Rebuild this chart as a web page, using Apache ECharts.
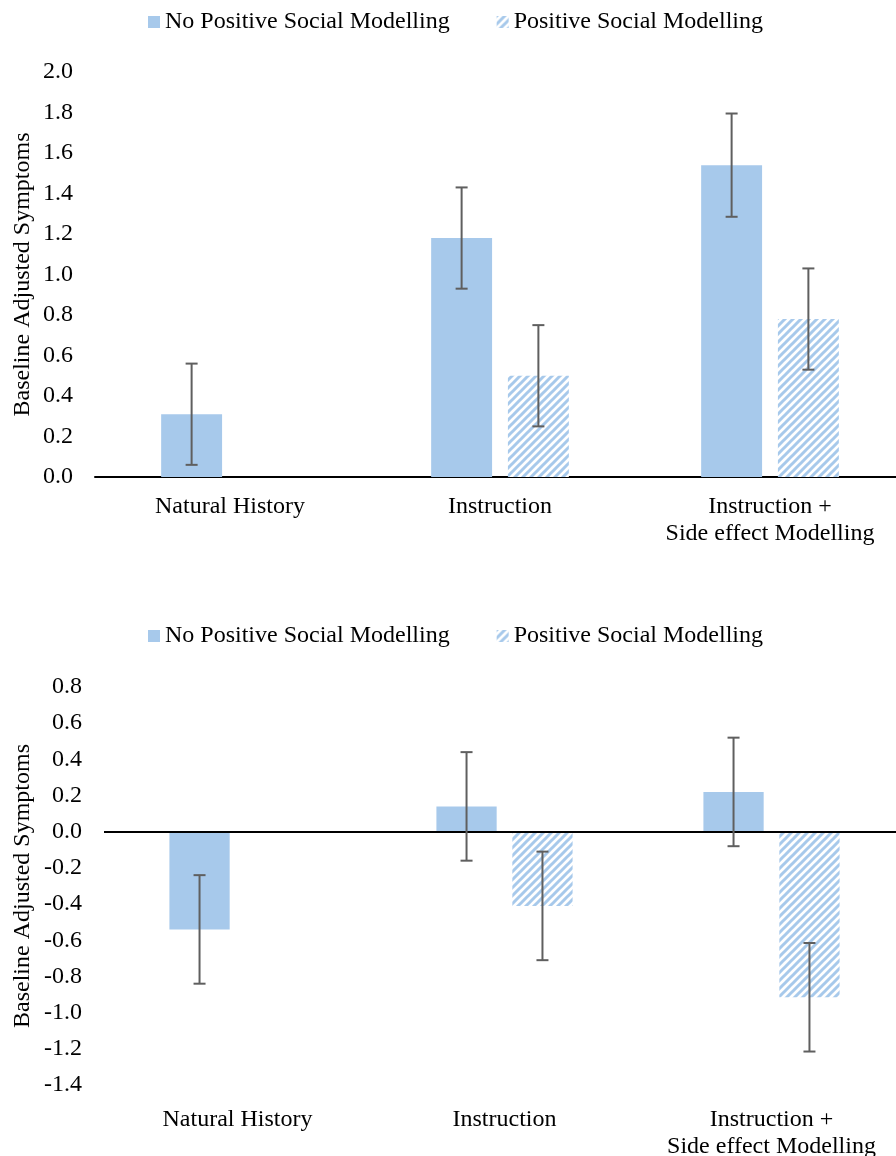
<!DOCTYPE html>
<html>
<head>
<meta charset="utf-8">
<script src="https://cdn.jsdelivr.net/npm/echarts@6/dist/echarts.min.js"></script>
<style>
  html, body { margin: 0; padding: 0; background: #ffffff; overflow: hidden; }
  #chart { width: 912px; height: 1156px; }
</style>
</head>
<body>
<div id="chart"></div>
<script>
// Groups on the horizontal axis
const categories = ['Natural History', 'Instruction', 'Instruction +\nSide effect Modelling'];
const seriesNames = ['No Positive Social Modelling', 'Positive Social Modelling'];

// Upper panel: baseline adjusted symptoms with half-width of error bars
const topTicks = { min: 0, max: 2.0, interval: 0.2 };
const topNoModel = [0.31, 1.18, 1.54];
const topModel = [null, 0.50, 0.78];
const topNoModelErr = [0.25, 0.25, 0.255];
const topModelErr = [null, 0.25, 0.25];

// Lower panel
const bottomTicks = { min: -1.4, max: 0.8, interval: 0.2 };
const bottomNoModel = [-0.54, 0.14, 0.22];
const bottomModel = [null, -0.41, -0.915];
const bottomNoModelErr = [0.30, 0.30, 0.30];
const bottomModelErr = [null, 0.30, 0.30];

const BLUE = '#A7C9EB';
const FONT = '"Liberation Serif", "Times New Roman", serif';
const CAT_GAP = 0.49;   // barCategoryGap
const BAR_GAP = 0.26;   // barGap between the two bars of a group

// Diagonal stripe fill for the modelling bars
function stripeTile() {
  const s = 8;
  const c = document.createElement('canvas');
  c.width = s; c.height = s;
  const g = c.getContext('2d');
  g.fillStyle = '#ffffff';
  g.fillRect(0, 0, s, s);
  g.strokeStyle = BLUE;
  g.lineWidth = 3;
  g.beginPath();
  g.moveTo(0, s); g.lineTo(s, 0);
  g.moveTo(-s / 2, s / 2); g.lineTo(s / 2, -s / 2);
  g.moveTo(s / 2, s + s / 2); g.lineTo(s + s / 2, s / 2);
  g.stroke();
  return c;
}
const stripe = { image: stripeTile(), repeat: 'repeat' };

// Error bars drawn on top of the bar that sits at slot 0 (left) or 1 (right)
function errorSeries(values, errs, slot, axisIdx) {
  const data = [];
  values.forEach((v, i) => {
    if (v != null && errs[i] != null) data.push([i, v - errs[i], v + errs[i]]);
  });
  return {
    type: 'custom',
    xAxisIndex: axisIdx,
    yAxisIndex: axisIdx,
    silent: true,
    z: 5,
    data: data,
    renderItem: function (params, api) {
      const band = api.size([1, 0])[0];
      const barW = band * (1 - CAT_GAP) / (2 + BAR_GAP);
      const off = (slot === 0 ? -1 : 1) * barW * (1 + BAR_GAP) / 2;
      const lo = api.coord([api.value(0), api.value(1)]);
      const hi = api.coord([api.value(0), api.value(2)]);
      const x = lo[0] + off;
      const cap = 6;
      const style = { stroke: '#5f5f5f', lineWidth: 2 };
      return {
        type: 'group',
        children: [
          { type: 'line', shape: { x1: x, y1: lo[1], x2: x, y2: hi[1] }, style: style },
          { type: 'line', shape: { x1: x - cap, y1: lo[1], x2: x + cap, y2: lo[1] }, style: style },
          { type: 'line', shape: { x1: x - cap, y1: hi[1], x2: x + cap, y2: hi[1] }, style: style }
        ]
      };
    }
  };
}

function barSeries(name, values, fill, axisIdx, withZeroLine) {
  const s = {
    name: name,
    type: 'bar',
    xAxisIndex: axisIdx,
    yAxisIndex: axisIdx,
    data: values,
    barGap: (BAR_GAP * 100) + '%',
    barCategoryGap: (CAT_GAP * 100) + '%',
    itemStyle: { color: fill },
    emphasis: { disabled: true }
  };
  if (withZeroLine) {
    s.markLine = {
      silent: true,
      symbol: 'none',
      label: { show: false },
      lineStyle: { color: '#000000', width: 2, type: 'solid' },
      data: [{ yAxis: 0 }]
    };
  }
  return s;
}

const axisText = { color: '#000000', fontFamily: FONT, fontSize: 24 };

function yAxis(ticks, gridIdx, gap) {
  return {
    type: 'value',
    gridIndex: gridIdx,
    min: ticks.min, max: ticks.max, interval: ticks.interval,
    name: 'Baseline Adjusted Symptoms',
    nameLocation: 'middle',
    nameGap: gap,
    nameMoveOverlap: false,
    nameTextStyle: axisText,
    axisLine: { show: false },
    axisTick: { show: false },
    splitLine: { show: false },
    axisLabel: Object.assign({ margin: 22, formatter: v => v.toFixed(1) }, axisText)
  };
}

function xAxis(gridIdx, showLine, margin) {
  return {
    type: 'category',
    gridIndex: gridIdx,
    data: categories,
    axisLine: { show: showLine, onZero: false, lineStyle: { color: '#000000', width: 2 } },
    axisTick: { show: false },
    axisLabel: Object.assign({ margin: margin, lineHeight: 27, interval: 0 }, axisText)
  };
}

function legend(top) {
  return {
    top: top,
    left: 148,
    padding: 0,
    itemWidth: 12,
    itemHeight: 12,
    itemGap: 47,
    icon: 'rect',
    selectedMode: false,
    textStyle: axisText,
    data: seriesNames
  };
}

const chart = echarts.init(document.getElementById('chart'), null, { renderer: 'canvas' });
chart.setOption({
  animation: false,
  backgroundColor: '#ffffff',
  legend: [legend(10), legend(624)],
  grid: [
    { left: 95, top: 72, width: 810, height: 405, outerBoundsMode: 'none' },
    { left: 104, top: 687, width: 801, height: 398, outerBoundsMode: 'none' }
  ],
  xAxis: [xAxis(0, true, 16), xAxis(1, false, 21)],
  yAxis: [yAxis(topTicks, 0, 60), yAxis(bottomTicks, 1, 69)],
  series: [
    barSeries(seriesNames[0], topNoModel, BLUE, 0, false),
    barSeries(seriesNames[1], topModel, stripe, 0, false),
    errorSeries(topNoModel, topNoModelErr, 0, 0),
    errorSeries(topModel, topModelErr, 1, 0),
    barSeries(seriesNames[0], bottomNoModel, BLUE, 1, true),
    barSeries(seriesNames[1], bottomModel, stripe, 1, false),
    errorSeries(bottomNoModel, bottomNoModelErr, 0, 1),
    errorSeries(bottomModel, bottomModelErr, 1, 1)
  ]
});
</script>
</body>
</html>
